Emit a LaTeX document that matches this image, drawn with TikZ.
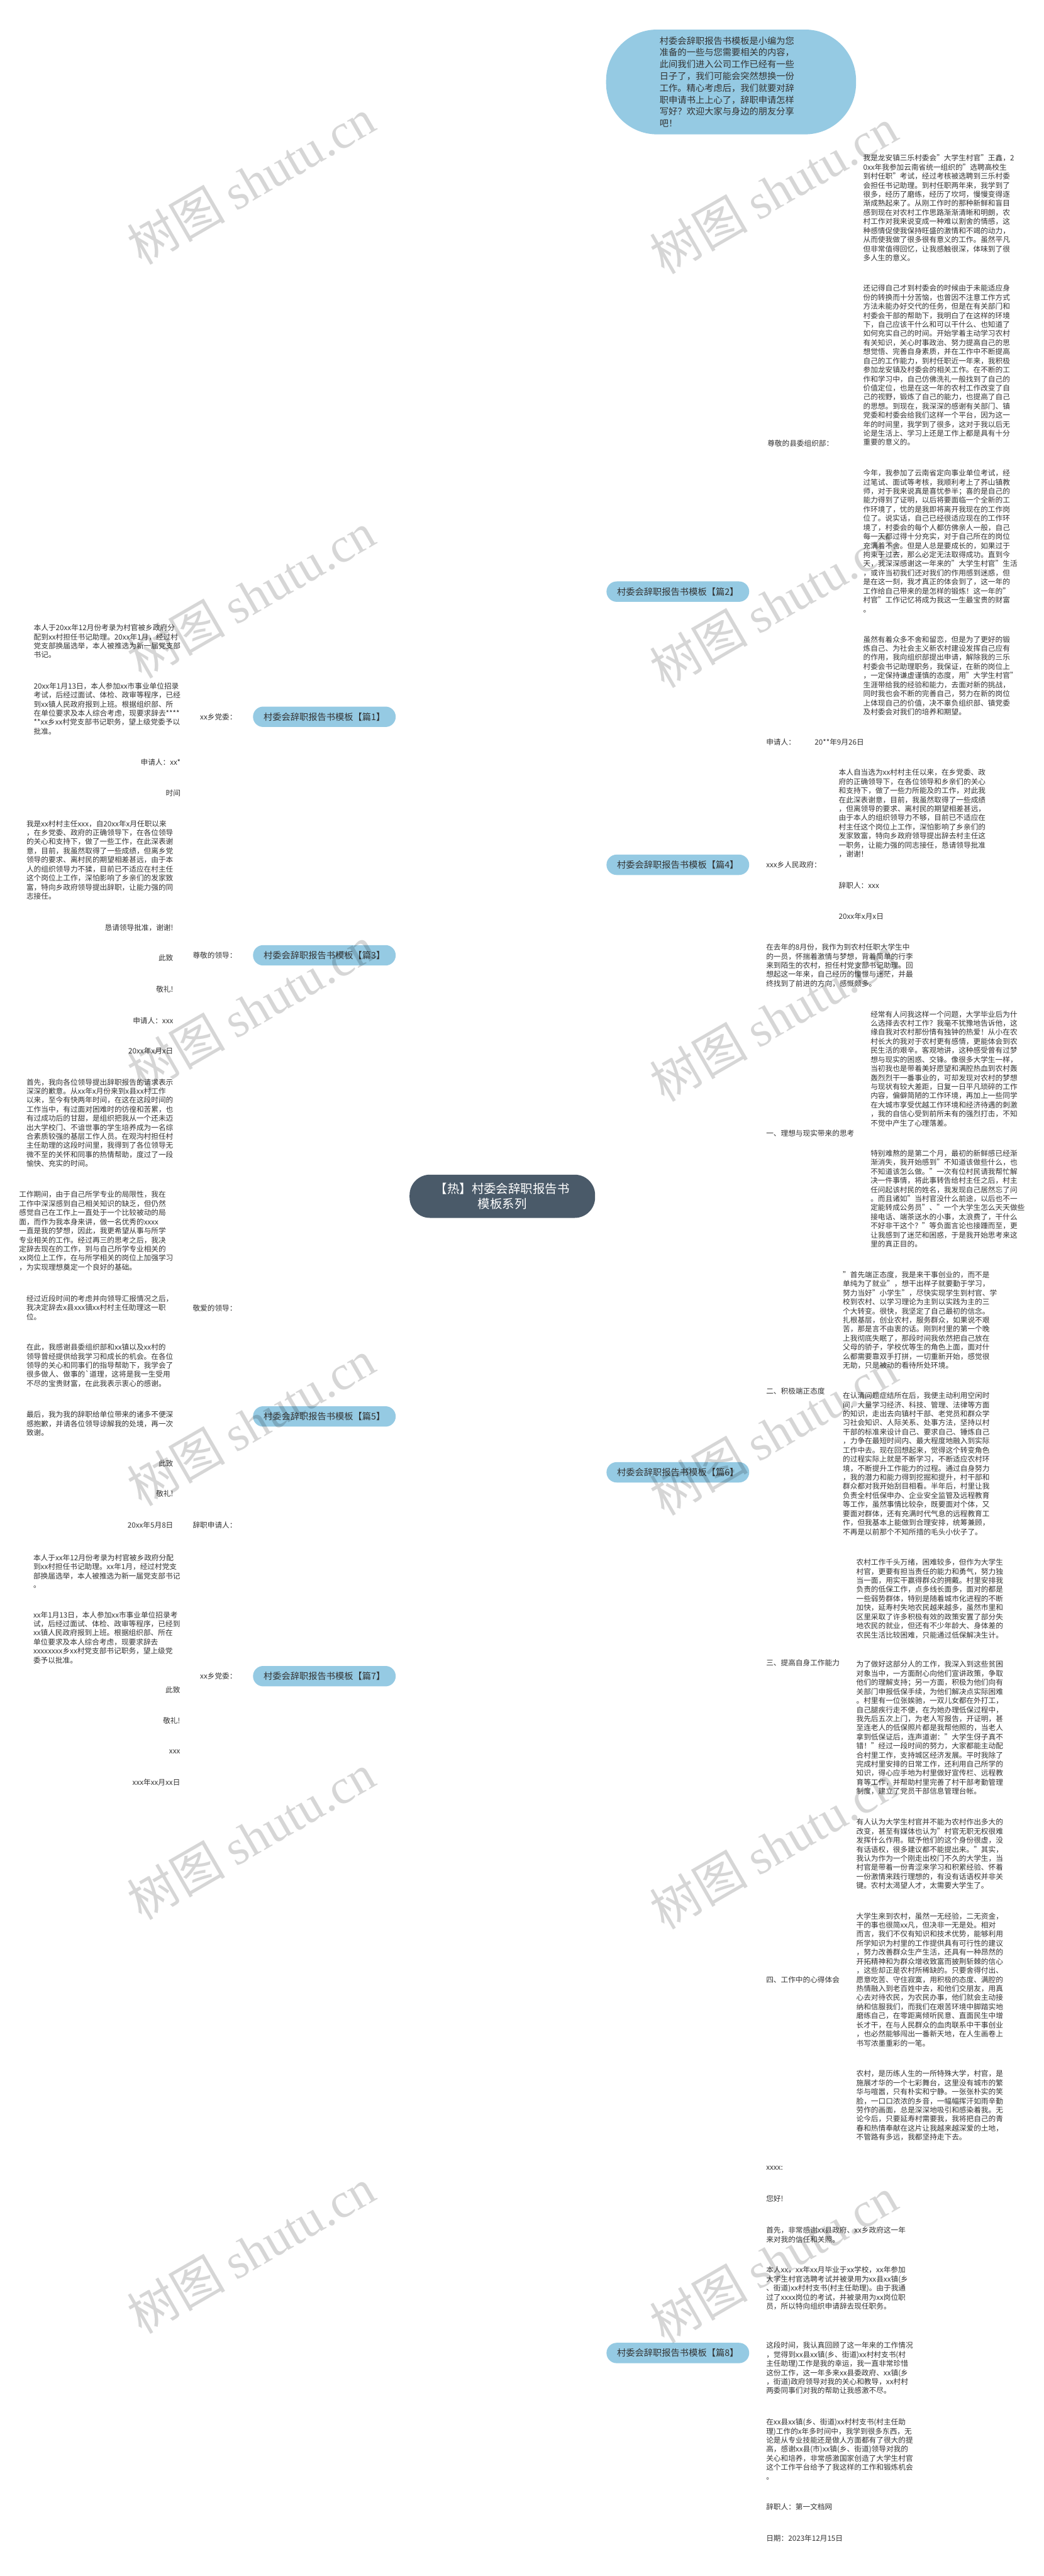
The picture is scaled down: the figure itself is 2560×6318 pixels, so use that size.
\documentclass[tikz,border=0pt]{standalone}
\usepackage{fontspec}
\setmainfont{Noto Sans CJK SC}
\newfontfamily\wmlatin{Liberation Serif}
\usetikzlibrary{calc}
\pgfdeclarelayer{bg}
\pgfdeclarelayer{fg}
\pgfsetlayers{bg,main,fg}
\definecolor{linec}{HTML}{3D4B59}
\definecolor{bluef}{HTML}{95CAE3}
\definecolor{centerf}{HTML}{4A5A69}
\definecolor{txtc}{HTML}{333333}
\tikzset{
  txt/.style={font=\fontsize{18pt}{22.25pt}\selectfont, text=txtc, align=left, inner xsep=9pt, inner ysep=3pt},
  branch/.style={fill=bluef, rounded corners=25pt, minimum width=350pt, minimum height=50pt, inner sep=0pt, font=\fontsize{22pt}{26pt}\selectfont, text=txtc},
  mainline/.style={draw=linec, line width=4pt},
  subline/.style={draw=linec, line width=3pt},
  hook/.style={draw=linec, line width=3pt, rounded corners=12pt},
  wm/.style={rotate=30, anchor=base west, text=black, opacity=0.16, font=\fontsize{120pt}{120pt}\selectfont, inner sep=0pt},
}
\begin{document}
\begin{tikzpicture}[x=1pt,y=-1pt]
\fill[white] (0,0) rectangle (2560,6318);
\useasboundingbox (0,0) rectangle (2560,6318);

% ---------- center and intro ----------
\node[fill=centerf, text=white, rounded corners=50pt, minimum width=455pt, minimum height=106pt, align=center, font=\fontsize{30pt}{38pt}\selectfont] (ctr) at (1232,2934) {【热】村委会辞职报告书\\模板系列};
\coordinate (cL) at (1080,2934);
\coordinate (cR) at (1345,2934);

\node[fill=bluef, rounded corners=125pt, minimum width=613pt, minimum height=257pt, text width=350pt, align=left, text=txtc, font=\fontsize{22pt}{29pt}\selectfont] (intro) at (1793,201) {村委会辞职报告书模板是小编为您\\准备的一些与您需要相关的内容，\\此间我们进入公司工作已经有一些\\日子了，我们可能会突然想换一份\\工作。精心考虑后，我们就要对辞\\职申请书上上心了，辞职申请怎样\\写好？欢迎大家与身边的朋友分享\\吧！};

% ---------- branch nodes ----------
\node[branch] (p1) at (795.5,1758) {村委会辞职报告书模板【篇1】};
\node[branch] (p3) at (795.5,2343) {村委会辞职报告书模板【篇3】};
\node[branch] (p5) at (795.5,3474) {村委会辞职报告书模板【篇5】};
\node[branch] (p7) at (795.5,4111) {村委会辞职报告书模板【篇7】};
\node[branch] (p2) at (1662.5,1451) {村委会辞职报告书模板【篇2】};
\node[branch] (p4) at (1662.5,2121) {村委会辞职报告书模板【篇4】};
\node[branch] (p6) at (1662.5,3611) {村委会辞职报告书模板【篇6】};
\node[branch] (p8) at (1662.5,5771) {村委会辞职报告书模板【篇8】};

% ---------- 篇1 ----------
\node[txt, anchor=east] (lab1) at (590,1758) {xx乡党委：};
\coordinate (s1) at (469,1758);
\node[txt, anchor=east] (b1a) at (452,1573) {本人于20xx年12月份考录为村官被乡政府分\\配到xx村担任书记助理。20xx年1月，经过村\\党支部换届选举，本人被推选为新一届党支部\\书记。};
\node[txt, anchor=east] (b1b) at (452,1738) {20xx年1月13日，本人参加xx市事业单位招录\\考试，后经过面试、体检、政审等程序，已经\\到xx镇人民政府报到上班。根据组织部、所\\在单位要求及本人综合考虑，现要求辞去****\\**xx乡xx村党支部书记职务，望上级党委予以\\批准。};
\node[txt, anchor=east] (b1c) at (452,1869) {申请人：xx*};
\node[txt, anchor=east] (b1d) at (452,1945) {时间};

% ---------- 篇2 ----------
\node[txt, anchor=west] (lab2) at (1873,1088) {尊敬的县委组织部：};
\node[txt, anchor=west] (appl2) at (1870,1820) {申请人：};
\node[txt, anchor=west] (date2) at (1989,1820) {20**年9月26日};
\coordinate (s2) at (2093,1088);
\node[txt, anchor=west] (b2a) at (2108,510) {我是龙安镇三乐村委会"大学生村官"王鑫，2\\0xx年我参加云南省统一组织的"选聘高校生\\到村任职"考试，经过考核被选聘到三乐村委\\会担任书记助理。到村任职两年来，我学到了\\很多，经历了磨练，经历了坎坷，慢慢变得逐\\渐成熟起来了。从刚工作时的那种新鲜和盲目\\感到现在对农村工作思路渐渐清晰和明朗，农\\村工作对我来说变成一种难以割舍的情感，这\\种感情促使我保持旺盛的激情和不竭的动力，\\从而使我做了很多很有意义的工作。虽然平凡\\但非常值得回忆，让我感触很深，体味到了很\\多人生的意义。};
\node[txt, anchor=west] (b2b) at (2108,896) {还记得自己才到村委会的时候由于未能适应身\\份的转换而十分苦恼，也曾因不注意工作方式\\方法未能办好交代的任务，但是在有关部门和\\村委会干部的帮助下，我明白了在这样的环境\\下，自己应该干什么和可以干什么、也知道了\\如何充实自己的时间。开始学着主动学习农村\\有关知识，关心时事政治、努力提高自己的思\\想觉悟、完善自身素质，并在工作中不断提高\\自己的工作能力，到村任职近一年来，我积极\\参加龙安镇及村委会的相关工作。在不断的工\\作和学习中，自己仿佛洗礼一般找到了自己的\\价值定位，也是在这一年的农村工作改变了自\\己的视野，锻炼了自己的能力，也提高了自己\\的思想。到现在，我深深的感谢有关部门、镇\\党委和村委会给我们这样一个平台，因为这一\\年的时间里，我学到了很多，这对于我以后无\\论是生活上、学习上还是工作上都是具有十分\\重要的意义的。};
\node[txt, anchor=west] (b2c) at (2108,1327) {今年，我参加了云南省定向事业单位考试，经\\过笔试、面试等考核，我顺利考上了荞山镇教\\师，对于我来说真是喜忧参半；喜的是自己的\\能力得到了证明，以后将要面临一个全新的工\\作环境了，忧的是我即将离开我现在的工作岗\\位了。说实话，自己已经很适应现在的工作环\\境了，村委会的每个人都仿佛亲人一般，自己\\每一天都过得十分充实，对于自己所在的岗位\\充满着不舍。但是人总是要成长的，如果过于\\拘束于过去，那么必定无法取得成功。直到今\\天，我深深感谢这一年来的"大学生村官"生活\\，或许当初我们还对我们的作用感到迷惑，但\\是在这一刻，我才真正的体会到了，这一年的\\工作给自己带来的是怎样的锻炼！这一年的"\\村官"工作记忆将成为我这一生最宝贵的财富\\。};
\node[txt, anchor=west] (b2d) at (2108,1657) {虽然有着众多不舍和留恋，但是为了更好的锻\\炼自己、为社会主义新农村建设发挥自己应有\\的作用，我向组织部提出申请，解除我的三乐\\村委会书记助理职务，我保证，在新的岗位上\\，一定保持谦虚谨慎的态度，用"大学生村官"\\生涯带给我的经验和能力，去面对新的挑战，\\同时我也会不断的完善自己，努力在新的岗位\\上体现自己的价值，决不辜负组织部、镇党委\\及村委会对我们的培养和期望。};

% ---------- 篇4 ----------
\node[txt, anchor=west] (lab4) at (1870,2121) {xxx乡人民政府：};
\coordinate (s4) at (2032,2121);
\node[txt, anchor=west] (b4a) at (2048,1995) {本人自当选为xx村村主任以来，在乡党委、政\\府的正确领导下，在各位领导和乡亲们的关心\\和支持下，做了一些力所能及的工作，对此我\\在此深表谢意，目前，我虽然取得了一些成绩\\，但离领导的要求、离村民的期望相差甚远，\\由于本人的组织领导力不够，目前已不适应在\\村主任这个岗位上工作，深怕影响了乡亲们的\\发家致富，特向乡政府领导提出辞去村主任这\\一职务，让能力强的同志接任，恳请领导批准\\，谢谢！};
\node[txt, anchor=west] (b4b) at (2048,2172) {辞职人：xxx};
\node[txt, anchor=west] (b4c) at (2048,2247) {20xx年x月x日};

% ---------- 篇3 ----------
\node[txt, anchor=east] (lab3) at (590,2343) {尊敬的领导：};
\coordinate (s3) at (450,2343);
\node[txt, anchor=east] (b3a) at (434,2109) {我是xx村村主任xxx，自20xx年x月任职以来\\，在乡党委、政府的正确领导下，在各位领导\\的关心和支持下，做了一些工作，在此深表谢\\意，目前，我虽然取得了一些成绩，但离乡党\\领导的要求、离村民的期望相差甚远，由于本\\人的组织领导力不猱，目前已不适应在村主任\\这个岗位上工作，深怕影响了乡亲们的发家致\\富，特向乡政府领导提出辞职，让能力强的同\\志接任。};
\node[txt, anchor=east] (b3b) at (434,2276) {恳请领导批准，谢谢!};
\node[txt, anchor=east] (b3c) at (434,2350) {此致};
\node[txt, anchor=east] (b3d) at (434,2427) {敬礼!};
\node[txt, anchor=east] (b3e) at (434,2503) {申请人：xxx};
\node[txt, anchor=east] (b3f) at (434,2578) {20xx年x月x日};

% ---------- 篇5 ----------
\node[txt, anchor=east] (lab5a) at (590,3209) {敬爱的领导：};
\node[txt, anchor=east] (lab5b) at (590,3740) {辞职申请人：};
\node[txt, anchor=east] (date5) at (434,3740) {20xx年5月8日};
\coordinate (s5) at (450,3209);
\node[txt, anchor=east] (b5a) at (434,2754) {首先，我向各位领导提出辞职报告的请求表示\\深深的歉意。从xx年x月份来到x县xx村工作\\以来，至今有快两年时间，在这在这段时间的\\工作当中，有过面对困难时的彷徨和苦累，也\\有过成功后的甘甜，是组织把我从一个还未迈\\出大学校门、不谙世事的学生培养成为一名综\\合素质较强的基层工作人员。在观沟村担任村\\主任助理的这段时间里，我得到了各位领导无\\微不至的关怀和同事的热情帮助，度过了一段\\愉快、充实的时间。};
\node[txt, anchor=east] (b5b) at (434,3019) {工作期间，由于自己所学专业的局限性，我在\\工作中深深感到自己相关知识的缺乏，但仍然\\感觉自己在工作上一直处于一个比较被动的局\\面，而作为我本身来讲，做一名优秀的xxxx\\一直是我的梦想，因此，我更希望从事与所学\\专业相关的工作。经过再三的思考之后，我决\\定辞去现在的工作，到与自己所学专业相关的\\xx岗位上工作，在与所学相关的岗位上加强学习\\，为实现理想奠定一个良好的基础。};
\node[txt, anchor=east] (b5c) at (434,3207) {经过近段时间的考虑并向领导汇报情况之后，\\我决定辞去x县xxx镇xx村村主任助理这一职\\位。};
\node[txt, anchor=east] (b5d) at (434,3349) {在此，我感谢县委组织部和xx镇以及xx村的\\领导曾经提供给我学习和成长的机会。在各位\\领导的关心和同事们的指导帮助下，我学会了\\很多做人、做事的\textasciigrave 道理，这将是我一生受用\\不尽的宝贵财富，在此我表示衷心的感谢。};
\node[txt, anchor=east] (b5e) at (434,3492) {最后，我为我的辞职给单位带来的诸多不便深\\感抱歉，并请各位领导谅解我的处境，再一次\\致谢。};
\node[txt, anchor=east] (b5f) at (434,3589) {此致};
\node[txt, anchor=east] (b5g) at (434,3664) {敬礼!};

% ---------- 篇7 ----------
\node[txt, anchor=east] (lab7) at (590,4111) {xx乡党委：};
\coordinate (s7) at (466,4111);
\node[txt, anchor=east] (b7a) at (451,3854) {本人于xx年12月份考录为村官被乡政府分配\\到xx村担任书记助理。xx年1月，经过村党支\\部换届选举，本人被推选为新一届党支部书记\\。};
\node[txt, anchor=east] (b7b) at (451,4016) {xx年1月13日，本人参加xx市事业单位招录考\\试，后经过面试、体检、政审等程序，已经到\\xx镇人民政府报到上班。根据组织部、所在\\单位要求及本人综合考虑，现要求辞去\\xxxxxxxx乡xx村党支部书记职务，望上级党\\委予以批准。};
\node[txt, anchor=east] (b7c) at (451,4145) {此致};
\node[txt, anchor=east] (b7d) at (451,4221) {敬礼!};
\node[txt, anchor=east] (b7e) at (451,4297) {xxx};
\node[txt, anchor=east] (b7f) at (451,4372) {xxx年xx月xx日};

% ---------- 篇6 ----------
\node[txt, anchor=west] (b6a) at (1870,2368) {在去年的8月份，我作为到农村任职大学生中\\的一员，怀揣着激情与梦想，背着简单的行李\\来到陌生的农村，担任村党支部书记助理。回\\想起这一年来，自己经历的憧憬与迷茫，并最\\终找到了前进的方向，感慨颇多。};
\node[txt, anchor=west] (l6a) at (1870,2779) {一、理想与现实带来的思考};
\node[txt, anchor=west] (l6b) at (1870,3412) {二、积极端正态度};
\node[txt, anchor=west] (l6c) at (1870,4079) {三、提高自身工作能力};
\node[txt, anchor=west] (l6d) at (1870,4856) {四、工作中的心得体会};
\coordinate (s6a) at (2109,2779);
\coordinate (s6b) at (2040,3412);
\coordinate (s6c) at (2075,4079);
\coordinate (s6d) at (2075,4856);
\node[txt, anchor=west] (b6a1) at (2126,2621) {经常有人问我这样一个问题，大学毕业后为什\\么选择去农村工作？我毫不犹豫地告诉他，这\\缘自我对农村那份情有独钟的热爱！从小在农\\村长大的我对于农村更有感情，更能体会到农\\民生活的艰辛。客观地讲，这种感受曾有过梦\\想与现实的困惑、交锋。像很多大学生一样，\\当初我也是带着美好愿望和满腔热血到农村轰\\轰烈烈干一番事业的，可却发现对农村的梦想\\与现状有较大差距，日复一日平凡琐碎的工作\\内容，偏僻简陋的工作环境，再加上一些同学\\在大城市享受优越工作环境和经济待遇的刺激\\，我的自信心受到前所未有的强烈打击，不知\\不觉中产生了心理落差。};
\node[txt, anchor=west] (b6a2) at (2126,2940) {特别难熬的是第二个月，最初的新鲜感已经渐\\渐消失，我开始感到"不知道该做些什么，也\\不知道该怎么做。"一次有位村民请我帮忙解\\决一件事情，将此事转告给村主任之后，村主\\任问起该村民的姓名，我发现自己居然忘了问\\。而且诸如"当村官没什么前途，以后也不一\\定能转成公务员"、"一个大学生怎么天天做些\\接电话、端茶送水的小事，太浪费了，干什么\\不好非干这个？"等负面言论也接踵而至，更\\让我感到了迷茫和困惑，于是我开始思考来这\\里的真正目的。};
\node[txt, anchor=west] (b6b1) at (2058,3238) {"首先端正态度，我是来干事创业的，而不是\\单纯为了就业"，想干出样子就要勤于学习，\\努力当好"小学生"，尽快实现学生到村官、学\\校到农村、以学习理论为主到以实践为主的三\\个大转变。很快，我坚定了自己最初的信念。\\扎根基层，创业农村，服务群众，如果说不艰\\苦，那是言不由衷的话。刚到村里的第一个晚\\上我彻底失眠了，那段时间我依然把自己放在\\父母的骄子，学校优等生的角色上面，面对什\\么都需要靠双手打拼，一切重新开始，感觉很\\无助，只是被动的看待所处环境。};
\node[txt, anchor=west] (b6b2) at (2058,3590) {在认清问题症结所在后，我便主动利用空闲时\\间，大量学习经济、科技、管理、法律等方面\\的知识，走出去向镇村干部、老党员和群众学\\习社会知识、人际关系、处事方法，坚持以村\\干部的标准来设计自己、要求自己、锤炼自己\\，力争在最短时间内、最大程度地融入到实际\\工作中去。现在回想起来，觉得这个转变角色\\的过程实际上就是不断学习，不断适应农村环\\境，不断提升工作能力的过程。通过自身努力\\，我的潜力和能力得到挖掘和提升，村干部和\\群众都对我开始刮目相看。半年后，村里让我\\负责全村低保申办、企业安全监管及远程教育\\等工作，虽然事情比较杂，既要面对个体，又\\要面对群体，还有充满时代气息的远程教育工\\作，但我基本上能做到合理安排，统筹兼顾，\\不再是以前那个不知所措的毛头小伙子了。};
\node[txt, anchor=west] (b6c1) at (2091,3921) {农村工作千头万绪，困难较多，但作为大学生\\村官，更要有担当责任的能力和勇气，努力独\\当一面，用实干赢得群众的拥戴。村里安排我\\负责的低保工作，点多线长面多，面对的都是\\一些弱势群体，特别是随着城市化进程的不断\\加快，延寿村失地农民越来越多，虽然市里和\\区里采取了许多积极有效的政策安置了部分失\\地农民的就业，但还有不少年龄大、身体差的\\农民生活比较困难，只能通过低保解决生计。};
\node[txt, anchor=west] (b6c2) at (2091,4238) {为了做好这部分人的工作，我深入到这些贫困\\对象当中，一方面耐心向他们宣讲政策，争取\\他们的理解支持；另一方面，积极为他们向有\\关部门申报低保手续，为他们解决点实际困难\\。村里有一位张娭驰，一双儿女都在外打工，\\自己腿疾行走不便，在为她办理低保过程中，\\我先后五次上门，为老人写报告，开证明，甚\\至连老人的低保照片都是我帮他照的，当老人\\拿到低保证后，连声道谢："大学生伢子真不\\错！"经过一段时间的努力，大家都能主动配\\合村里工作，支持城区经济发展。平时我除了\\完成村里安排的日常工作，还利用自己所学的\\知识，得心应手地为村里做好宣传栏、远程教\\育等工作，并帮助村里完善了村干部考勤管理\\制度，建立了党员干部信息管理台帐。};
\node[txt, anchor=west] (b6d1) at (2091,4547) {有人认为大学生村官并不能为农村作出多大的\\改变，甚至有媒体也认为"村官无职无权很难\\发挥什么作用。赋予他们的这个身份很虚，没\\有话语权，很多建议都不能提出来。"其实，\\我认为作为一个刚走出校门不久的大学生，当\\村官是带着一份青涩来学习和积累经验、怀着\\一份激情来践行理想的，有没有话语权并非关\\键。农村太渴望人才，太需要大学生了。};
\node[txt, anchor=west] (b6d2) at (2091,4855) {大学生来到农村，虽然一无经验，二无资金，\\干的事也很简xx凡，但决非一无是处。相对\\而言，我们不仅有知识和技术优势，能够利用\\所学知识为村里的工作提供具有可行性的建议\\，努力改善群众生产生活，还具有一种昂然的\\开拓精神和为群众增收致富而披荆斩棘的信心\\，这些却正是农村所稀缺的。只要舍得付出、\\愿意吃苦、守住寂寞，用积极的态度、满腔的\\热情融入到老百姓中去，和他们交朋友，用真\\心去对待农民，为农民办事，他们就会主动接\\纳和信服我们，而我们在艰苦环境中脚踏实地\\磨练自己，在零距离倾听民意、直面民生中增\\长才干，在与人民群众的血肉联系中干事创业\\，也必然能够闯出一番新天地，在人生画卷上\\书写浓墨重彩的一笔。};
\node[txt, anchor=west] (b6d3) at (2091,5164) {农村，是历练人生的一所特殊大学，村官，是\\施展才华的一个七彩舞台，这里没有城市的繁\\华与喧嚣，只有朴实和宁静。一张张朴实的笑\\脸，一口口浓浓的乡音，一幅幅挥汗如雨辛勤\\劳作的画面，总是深深地吸引和感染着我。无\\论今后，只要延寿村需要我，我将把自己的青\\春和热情奉献在这片让我越来越深爱的土地，\\不管路有多远，我都坚持走下去。};

% ---------- 篇8 ----------
\node[txt, anchor=west] (b8a) at (1870,5318) {xxxx:};
\node[txt, anchor=west] (b8b) at (1870,5393) {您好!};
\node[txt, anchor=west] (b8c) at (1870,5481) {首先，非常感谢xx县政府、xx乡政府这一年\\来对我的信任和关照。};
\node[txt, anchor=west] (b8d) at (1870,5612) {本人xx，xx年xx月毕业于xx学校，xx年参加\\大学生村官选聘考试并被录用为xx县xx镇(乡\\、街道)xx村村支书(村主任助理)。由于我通\\过了xxxx岗位的考试，并被录用为xx岗位职\\员，所以特向组织申请辞去现任职务。};
\node[txt, anchor=west] (b8e) at (1870,5808) {这段时间，我认真回顾了这一年来的工作情况\\，觉得到xx县xx镇(乡、街道)xx村村支书(村\\主任助理)工作是我的幸运，我一直非常珍惜\\这份工作，这一年多来xx县委政府、xx镇(乡\\，街道)政府领导对我的关心和教导，xx村村\\两委同事们对我的帮助让我感激不尽。};
\node[txt, anchor=west] (b8f) at (1870,6007) {在xx县xx镇(乡、街道)xx村村支书(村主任助\\理)工作的x年多时间中，我学到很多东西，无\\论是从专业技能还是做人方面都有了很大的提\\高，感谢xx县(市)xx镇(乡、街道)领导对我的\\关心和培养，非常感激国家创造了大学生村官\\这个工作平台给予了我这样的工作和锻炼机会\\。};
\node[txt, anchor=west] (b8g) at (1870,6149) {辞职人：第一文档网};
\node[txt, anchor=west] (b8h) at (1870,6226) {日期：2023年12月15日};

% ---------- connectors ----------
\begin{pgfonlayer}{bg}
\draw[mainline] (cR) .. controls (cR |- intro.west) .. (intro.west);
\draw[mainline] (cR) .. controls (cR |- p2.west) .. (p2.west);
\draw[mainline] (cR) .. controls (cR |- p4.west) .. (p4.west);
\draw[mainline] (cR) .. controls (cR |- p6.west) .. (p6.west);
\draw[mainline] (cR) .. controls (cR |- p8.west) .. (p8.west);
\draw[mainline] (p1.east) .. controls (cL |- p1.east) .. (cL);
\draw[mainline] (p3.east) .. controls (cL |- p3.east) .. (cL);
\draw[mainline] (p5.east) .. controls (cL |- p5.east) .. (cL);
\draw[mainline] (p7.east) .. controls (cL |- p7.east) .. (cL);

\draw[subline] (p1.west) -- (lab1.east);
\draw[subline] (lab1.west) -- (s1);
\foreach \c in {b1a,b1b,b1c,b1d} \draw[hook] (s1) |- (\c.east);

\coordinate (k2) at ($(p2.east)+(23,0)$);
\draw[subline] (p2.east) .. controls (k2) and (k2 |- lab2.west) .. (lab2.west);
\draw[subline] (p2.east) .. controls (k2) and (k2 |- appl2.west) .. (appl2.west);
\draw[subline] (appl2.east) -- (date2.west);
\draw[subline] (lab2.east) -- (s2);
\foreach \c in {b2a,b2b,b2c,b2d} \draw[hook] (s2) |- (\c.west);

\draw[subline] (p4.east) -- (lab4.west);
\draw[subline] (lab4.east) -- (s4);
\foreach \c in {b4a,b4b,b4c} \draw[hook] (s4) |- (\c.west);

\draw[subline] (p3.west) -- (lab3.east);
\draw[subline] (lab3.west) -- (s3);
\foreach \c in {b3a,b3b,b3c,b3d,b3e,b3f} \draw[hook] (s3) |- (\c.east);

\coordinate (k5) at ($(p5.west)+(-20,0)$);
\draw[subline] (p5.west) .. controls (k5) and (k5 |- lab5a.east) .. (lab5a.east);
\draw[subline] (p5.west) .. controls (k5) and (k5 |- lab5b.east) .. (lab5b.east);
\draw[subline] (lab5b.west) -- (date5.east);
\draw[subline] (lab5a.west) -- (s5);
\foreach \c in {b5a,b5b,b5c,b5d,b5e,b5f,b5g} \draw[hook] (s5) |- (\c.east);

\draw[subline] (p7.west) -- (lab7.east);
\draw[subline] (lab7.west) -- (s7);
\foreach \c in {b7a,b7b,b7c,b7d,b7e,b7f} \draw[hook] (s7) |- (\c.east);

\coordinate (k6) at ($(p6.east)+(23,0)$);
\foreach \c in {b6a,l6a,l6b,l6c,l6d} \draw[subline] (p6.east) .. controls (k6) and (k6 |- \c.west) .. (\c.west);
\draw[subline] (l6a.east) -- (s6a);
\draw[subline] (l6b.east) -- (s6b);
\draw[subline] (l6c.east) -- (s6c);
\draw[subline] (l6d.east) -- (s6d);
\foreach \c in {b6a1,b6a2} \draw[hook] (s6a) |- (\c.west);
\foreach \c in {b6b1,b6b2} \draw[hook] (s6b) |- (\c.west);
\foreach \c in {b6c1,b6c2} \draw[hook] (s6c) |- (\c.west);
\foreach \c in {b6d1,b6d2,b6d3} \draw[hook] (s6d) |- (\c.west);

\coordinate (k8) at ($(p8.east)+(23,0)$);
\foreach \c in {b8a,b8b,b8c,b8d,b8e,b8f,b8g,b8h} \draw[subline] (p8.east) .. controls (k8) and (k8 |- \c.west) .. (\c.west);
\end{pgfonlayer}

% ---------- watermarks ----------
\begin{pgfonlayer}{fg}
\foreach \k in {0,...,5} {
  \node[wm] at (348,652+1015*\k) {树图 {\wmlatin shutu.cn}};
  \node[wm] at (1630,675+1015*\k) {树图 {\wmlatin shutu.cn}};
}
\end{pgfonlayer}
\end{tikzpicture}
\end{document}
